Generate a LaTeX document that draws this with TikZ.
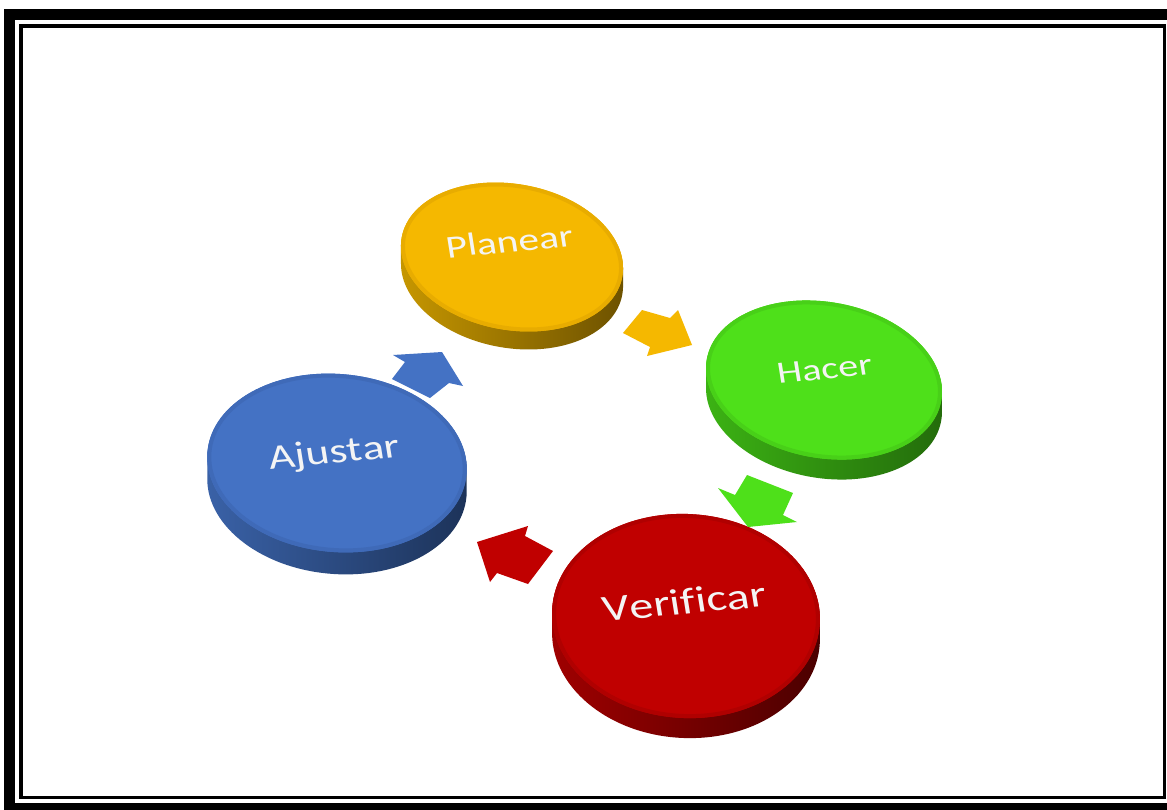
\documentclass[tikz,border=0pt]{standalone}
\usepackage{fontspec}
\newfontfamily\calib[Ligatures=NoCommon, Kerning=Off]{Carlito}
\definecolor{yTop}{HTML}{F5B800}
\definecolor{yRim}{HTML}{E8AC00}
\definecolor{ySideL}{HTML}{C89800}
\definecolor{ySideD}{HTML}{6B5000}
\definecolor{gTop}{HTML}{4EE01A}
\definecolor{gRim}{HTML}{48D018}
\definecolor{gSideL}{HTML}{3CB414}
\definecolor{gSideD}{HTML}{236A0B}
\definecolor{bTop}{HTML}{4472C4}
\definecolor{bRim}{HTML}{3F6AB8}
\definecolor{bSideL}{HTML}{3A62A8}
\definecolor{bSideD}{HTML}{1C3258}
\definecolor{rTop}{HTML}{C00000}
\definecolor{rRim}{HTML}{B00000}
\definecolor{rSideL}{HTML}{A00000}
\definecolor{rSideD}{HTML}{4A0000}
\definecolor{lblText}{HTML}{F4F4F4}
\tikzset{
  outerframe/.style={draw=black, line width=11pt},
  innerframe/.style={draw=black, line width=3.5pt},
  lbl/.style={text=lblText, inner sep=0pt, anchor=base, rotate=7, transform shape}
}
% #1 cx, #2 cy, #3 ellipse opts, #4 thickness, #5 top, #6 side light, #7 side dark, #8 rim
\newcommand\pdcadisk[8]{%
  \shade[left color=#6, right color=#7] foreach \k in {1,...,#4} {(#1,#2+\k) ellipse [#3]};
  \fill[#5] (#1,#2) ellipse [#3];
  \begin{scope}
    \clip (#1,#2) ellipse [#3];
    \draw[#8, line width=8pt] (#1,#2) ellipse [#3];
  \end{scope}
}
% #1 name, #2 x, #3 y, #4 size, #5 text
\newcommand\pdcalabel[5]{%
  \begin{scope}[shift={(#2,#3)}, xscale=1.3]
    \node[lbl, font={\calib\fontsize{#4}{#4}\selectfont}] (#1) at (0,0) {#5};
  \end{scope}
}
\begin{document}
\begin{tikzpicture}[x=1pt, y=-1pt]
\useasboundingbox (0,0) rectangle (1167,809);
\fill[white] (0,0) rectangle (1167,809);
\begin{scope}
  \clip (0,0) rectangle (1167,809);
  \draw[outerframe] (9.5,14.5) rectangle (1180,808.5);
\end{scope}
\draw[innerframe] (21,26) rectangle (1164.5,797.3);

% disks
\pdcadisk{512}{257}{x radius=112pt, y radius=73pt, rotate=-10}{18}{yTop}{ySideL}{ySideD}{yRim}
\pdcadisk{824}{380}{x radius=119pt, y radius=78pt, rotate=-10}{20}{gTop}{gSideL}{gSideD}{gRim}
\pdcadisk{337}{463}{x radius=130pt, y radius=89pt, rotate=-5}{22}{bTop}{bSideL}{bSideD}{bRim}
\pdcadisk{686}{616}{x radius=134pt, y radius=102pt, rotate=-3}{20}{rTop}{rSideL}{rSideD}{rRim}

% block arrows
\fill[yTop] (623,333) -- (642,310) -- (670,318) -- (678,310) -- (692,345) -- (647,356) -- (650,347) -- cycle;
\fill[gTop] (718,488) -- (735,495) -- (747,475) -- (793,493) -- (783,515) -- (797,522) -- (748,527) -- cycle;
\fill[rTop] (477,542) -- (490,582) -- (497,573) -- (528,584) -- (553,551) -- (525,536) -- (528,526) -- cycle;
\fill[bTop] (393,355) -- (405,362) -- (392,379) -- (430,398) -- (449,383) -- (463,386) -- (442,352) -- cycle;

% labels
\pdcalabel{planear}{511}{252}{32}{Planear}
\pdcalabel{hacer}{826}{379}{31}{Hacer}
\pdcalabel{ajustar}{336}{463}{35}{Ajustar}
\pdcalabel{verificar}{686}{614}{37}{Verificar}
\end{tikzpicture}
\end{document}
